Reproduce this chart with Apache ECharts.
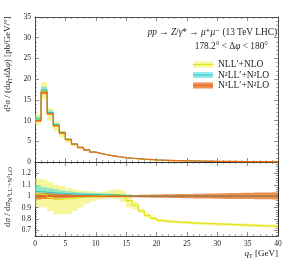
<!DOCTYPE html>
<html><head><meta charset="utf-8">
<script src="https://cdn.jsdelivr.net/npm/echarts@6/dist/echarts.min.js"></script>
<style>html,body{margin:0;padding:0;background:#fff}#c{width:288px;height:260px}</style>
</head><body><div id="c"></div>
<script>
// bin edges in q_T [GeV]
const qtEdges = [0,1,2,3,4,5,6,7,8,9,10,11,12,13,14,15,16,17,18,19,20,21,22,23,24,25,26,27,28,29,30,31,32,33,34,35,36,37,38,39,40];
// N3LL'+N2LO central cross section [pb/GeV/deg]
const sigmaN3LL = [10.0,16.8,11.6,8.8,7.0,5.4,4.3,3.5,2.9,2.4,2.0,1.7,1.45,1.25,1.08,0.93,0.80,0.70,0.61,0.53,0.47,0.41,0.36,0.32,0.28,0.25,0.22,0.20,0.18,0.16,0.145,0.13,0.12,0.11,0.10,0.09,0.085,0.08,0.075,0.07];
// ratios to N3LL'+N2LO
const nllHi  = [1.155,1.146,1.125,1.10,1.09,1.07,1.06,1.05,1.045,1.04,1.035,1.04,1.055,1.06,1.05,1.02,0.95,0.89,0.85,0.82,0.80,0.794,0.789,0.785,0.782,0.779,0.776,0.773,0.771,0.769,0.767,0.765,0.763,0.761,0.759,0.757,0.755,0.753,0.751,0.749];
const nllMid = [1.02,1.01,0.99,0.97,0.975,0.98,0.985,0.99,0.995,1.0,1.005,1.01,1.015,1.015,1.0,0.96,0.92,0.87,0.83,0.805,0.787,0.781,0.776,0.772,0.769,0.766,0.763,0.76,0.758,0.756,0.754,0.752,0.75,0.748,0.746,0.744,0.742,0.74,0.738,0.736];
const nllLo  = [0.91,0.90,0.87,0.84,0.84,0.845,0.87,0.90,0.93,0.955,0.97,0.98,0.98,0.975,0.95,0.90,0.885,0.85,0.81,0.79,0.774,0.768,0.763,0.759,0.756,0.753,0.75,0.747,0.745,0.743,0.741,0.739,0.737,0.735,0.733,0.731,0.729,0.727,0.725,0.723];
const n2Hi  = [1.095,1.08,1.07,1.06,1.05,1.042,1.036,1.032,1.03,1.028,1.026,1.025,1.023,1.02,1.016,1.012,1.01,1.008,1.008,1.008,1.008,1.008,1.008,1.008,1.008,1.008,1.008,1.008,1.008,1.008,1.008,1.008,1.008,1.008,1.008,1.008,1.008,1.008,1.008,1.008];
const n2Mid = [1.04,1.035,1.03,1.027,1.023,1.02,1.018,1.016,1.015,1.014,1.013,1.012,1.011,1.009,1.006,1.003,1.001,1.0,1.0,1.0,1.0,1.0,1.0,1.0,1.0,1.0,1.0,1.0,1.0,1.0,1.0,1.0,1.0,1.0,1.0,1.0,1.0,1.0,1.0,1.0];
const n2Lo  = [0.985,0.99,0.992,0.995,0.997,0.998,1.0,1.0,1.0,1.0,1.0,0.999,0.998,0.997,0.996,0.994,0.993,0.993,0.993,0.993,0.993,0.993,0.993,0.993,0.993,0.993,0.993,0.993,0.993,0.993,0.993,0.993,0.993,0.993,0.993,0.993,0.993,0.993,0.993,0.993];
const n3Hi  = [1.03,1.028,1.025,1.022,1.02,1.018,1.015,1.013,1.012,1.01,1.01,1.01,1.01,1.01,1.01,1.01,1.011,1.012,1.013,1.014,1.015,1.016,1.017,1.018,1.019,1.02,1.021,1.022,1.023,1.024,1.025,1.026,1.027,1.028,1.029,1.03,1.031,1.032,1.033,1.034];
const n3Mid = [1,1,1,1,1,1,1,1,1,1,1,1,1,1,1,1,1,1,1,1,1,1,1,1,1,1,1,1,1,1,1,1,1,1,1,1,1,1,1,1];
const n3Lo  = [0.97,0.975,0.978,0.98,0.982,0.985,0.987,0.989,0.99,0.99,0.99,0.991,0.991,0.991,0.991,0.99,0.99,0.989,0.988,0.987,0.986,0.985,0.984,0.983,0.982,0.981,0.98,0.98,0.979,0.978,0.977,0.976,0.976,0.975,0.974,0.974,0.973,0.972,0.972,0.971];
// tick labels
const xTicks = [0,5,10,15,20,25,30,35,40];
const yTopTicks = [0,5,10,15,20,25,30,35];
const ratioTicks = [0.7,0.8,0.9,1.0,1.1,1.2];
const ratioMinorTicks = [0.66,0.68,0.72,0.74,0.76,0.78,0.82,0.84,0.86,0.88,0.92,0.94,0.96,0.98,1.02,1.04,1.06,1.08,1.12,1.14,1.16,1.18,1.22,1.24,1.26,1.28];

const FONT = '"Liberation Serif", "DejaVu Serif", serif';
const C = {
  yBand:'rgba(238,238,60,0.5)', yLine:'#e2e21c',
  cBand:'rgba(60,220,220,0.55)', cLine:'#2ec4c4',
  oBand:'rgba(230,105,25,0.75)', oLine:'#ef6a12'
};

const chart = echarts.init(document.getElementById('c'), null, {renderer:'canvas'});

function stepData(vals){
  const d = vals.map((v,i)=>[qtEdges[i], v]);
  d.push([qtEdges[vals.length], vals[vals.length-1]]);
  return d;
}
function scale(r){ return r.map((v,i)=>v*sigmaN3LL[i]); }
function band(lo, hi, color, xi, yi){
  return {type:'custom', xAxisIndex:xi, yAxisIndex:yi, silent:true,
    data:[[qtEdges[0], lo[0]]],
    renderItem:function(params, api){
      const up = [], dn = [];
      for (let i = 0; i < lo.length; i++){
        up.push(api.coord([qtEdges[i], hi[i]]), api.coord([qtEdges[i+1], hi[i]]));
        dn.push(api.coord([qtEdges[i], lo[i]]), api.coord([qtEdges[i+1], lo[i]]));
      }
      return {type:'polygon', shape:{points: up.concat(dn.reverse())}, style:{fill:color}};
    }};
}
function line(vals, color, w, xi, yi){
  return {type:'line', xAxisIndex:xi, yAxisIndex:yi, step:'end', symbol:'none', silent:true,
    data: stepData(vals), lineStyle:{color:color, width:w}, z:3};
}

const axisLine = {show:true, onZero:false, lineStyle:{color:'#222', width:0.8}};
const tickBase = {show:true, inside:true, length:4, lineStyle:{color:'#444', width:0.6}};
const minorBase = {show:true, splitNumber:5, length:2, lineStyle:{color:'#555', width:0.5}};
const lab = {fontFamily:FONT, fontSize:7.5, color:'#222'};

function xAx(grid, pos, labels){
  return {type:'value', gridIndex:grid, position:pos, min:0, max:40, interval:5,
    axisLine:axisLine, axisTick:tickBase, minorTick:minorBase, splitLine:{show:false},
    axisLabel: labels ? Object.assign({show:true, margin:4, customValues:xTicks}, lab) : {show:false}};
}

const series = [
  band(scale(nllLo), scale(nllHi), C.yBand, 0, 0),
  line(scale(nllMid), C.yLine, 1, 0, 0),
  band(scale(n2Lo), scale(n2Hi), C.cBand, 0, 0),
  line(scale(n2Mid), C.cLine, 1, 0, 0),
  band(scale(n3Lo), scale(n3Hi), C.oBand, 0, 0),
  line(scale(n3Mid), C.oLine, 1.3, 0, 0),
  band(nllLo, nllHi, C.yBand, 2, 2),
  line(nllMid, C.yLine, 1.2, 2, 2),
  band(n2Lo, n2Hi, C.cBand, 2, 2),
  line(n2Mid, C.cLine, 1, 2, 2),
  band(n3Lo, n3Hi, C.oBand, 2, 2),
  line(n3Mid, '#d85a10', 1, 2, 2)
];

const legendRows = [
  {y:64.5, band:C.yBand, line:C.yLine, text:'NLL′+NLO'},
  {y:75, band:C.cBand, line:C.cLine, text:'N²LL′+N²LO'},
  {y:85.5, band:C.oBand, line:C.oLine, text:'N³LL′+N²LO'}
];
const graphics = [];
legendRows.forEach(r=>{
  graphics.push({type:'rect', left:193, top:r.y-3, shape:{width:20, height:6}, style:{fill:r.band}, silent:true});
  graphics.push({type:'line', shape:{x1:193, y1:r.y, x2:213, y2:r.y}, style:{stroke:r.line, lineWidth:1}, silent:true});
  graphics.push({type:'text', x:218, y:r.y, style:{text:r.text, font:'9.5px '+FONT, fill:'#222', textVerticalAlign:'middle'}, silent:true});
});
graphics.push({type:'text', x:277, y:33, silent:true, style:{
  text:'{i|pp} → {i|Z}/{i|γ}* → {i|μ}⁺{i|μ}⁻ (13 TeV LHC)', fontFamily:FONT, fontSize:9.3, fill:'#222',
  align:'right', verticalAlign:'middle', rich:{i:{fontStyle:'italic', fontFamily:FONT, fontSize:9.3}}}});
graphics.push({type:'text', x:268, y:47, silent:true, style:{
  text:'178.2° < Δ{i|φ} < 180°', fontFamily:FONT, fontSize:9.3, fill:'#222',
  align:'right', verticalAlign:'middle', rich:{i:{fontStyle:'italic', fontFamily:FONT, fontSize:9.3}}}});
graphics.push({type:'text', x:8, y:64, rotation:Math.PI/2, silent:true, style:{
  text:'d²{i|σ} / (d{i|q}{s|T}dΔ{i|φ}) [pb/GeV/°]', fontFamily:FONT, fontSize:9, fill:'#222',
  align:'center', verticalAlign:'middle',
  rich:{i:{fontStyle:'italic', fontFamily:FONT, fontSize:9}, s:{fontFamily:FONT, fontSize:6, padding:[4,0,0,0]}}}});
graphics.push({type:'text', x:8, y:197, rotation:Math.PI/2, silent:true, style:{
  text:'d{i|σ} / d{i|σ}{s|N³LL′+N²LO}', fontFamily:FONT, fontSize:9, fill:'#222',
  align:'center', verticalAlign:'middle',
  rich:{i:{fontStyle:'italic', fontFamily:FONT, fontSize:9}, s:{fontFamily:FONT, fontSize:6.5, padding:[4,0,0,0]}}}});
graphics.push({type:'text', x:278, y:254, silent:true, style:{
  text:'{i|q}{s|T} [GeV]', fontFamily:FONT, fontSize:9, fill:'#222', align:'right', verticalAlign:'middle',
  rich:{i:{fontStyle:'italic', fontFamily:FONT, fontSize:9}, s:{fontFamily:FONT, fontSize:6, padding:[4,0,0,0]}}}});

chart.setOption({
  animation:false,
  backgroundColor:'#fff',
  grid:[
    {left:35, top:17, width:243, height:145},
    {left:35, top:162, width:243, height:74}
  ],
  xAxis:[ xAx(0,'bottom',false), xAx(0,'top',false), xAx(1,'bottom',true), xAx(1,'top',false) ],
  yAxis:[
    {type:'value', gridIndex:0, position:'left', min:0, max:35, interval:5, axisLine:axisLine, axisTick:tickBase,
     minorTick:minorBase, splitLine:{show:false}, axisLabel:Object.assign({margin:4, customValues:yTopTicks}, lab)},
    {type:'value', gridIndex:0, position:'right', min:0, max:35, interval:5, axisLine:axisLine, axisTick:tickBase,
     minorTick:minorBase, splitLine:{show:false}, axisLabel:{show:false}},
    {type:'value', gridIndex:1, position:'left', min:0.65, max:1.3, axisLine:axisLine,
     axisTick:Object.assign({customValues:ratioTicks}, tickBase), splitLine:{show:false},
     axisLabel:Object.assign({margin:4, customValues:ratioTicks, formatter:v=>String(Math.round(v*10)/10)}, lab)},
    {type:'value', gridIndex:1, position:'left', min:0.65, max:1.3, axisLine:axisLine,
     axisTick:Object.assign({}, tickBase, {length:2, customValues:ratioMinorTicks}), splitLine:{show:false}, axisLabel:{show:false}},
    {type:'value', gridIndex:1, position:'right', min:0.65, max:1.3, axisLine:axisLine,
     axisTick:Object.assign({customValues:ratioTicks}, tickBase), splitLine:{show:false}, axisLabel:{show:false}},
    {type:'value', gridIndex:1, position:'right', min:0.65, max:1.3, axisLine:axisLine,
     axisTick:Object.assign({}, tickBase, {length:2, customValues:ratioMinorTicks}), splitLine:{show:false}, axisLabel:{show:false}}
  ],
  series: series,
  graphic: graphics
});
</script></body></html>
